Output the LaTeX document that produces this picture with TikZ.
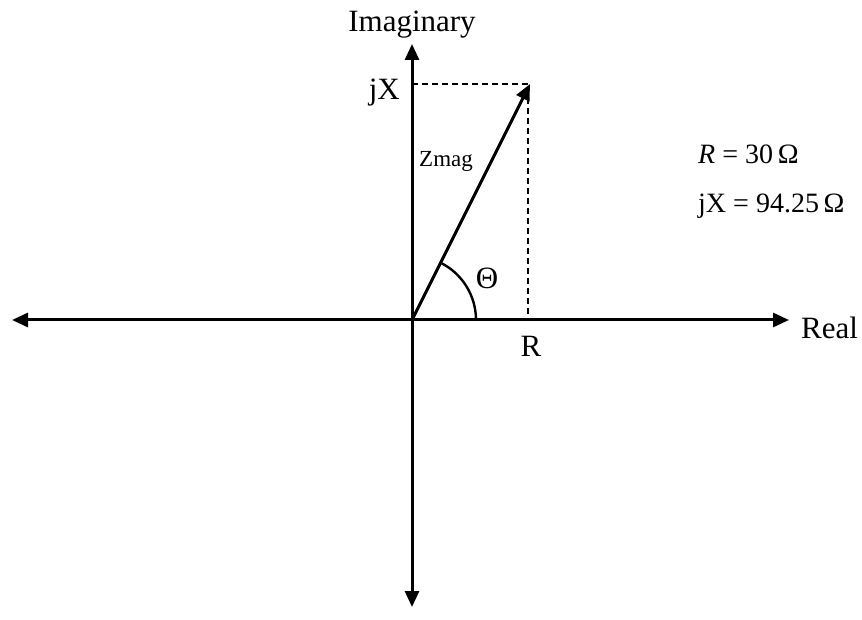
\documentclass[tikz,border=0pt]{standalone}
\usepackage{fontspec}
\setmainfont{Liberation Serif}
\usetikzlibrary{arrows.meta}
\tikzset{
  axisline/.style={line width=3pt},
  bigtip/.tip={Triangle[length=16pt,width=14pt]},
  guide/.style={line width=2pt,dash pattern=on 6pt off 4pt},
  lbl/.style={inner sep=0pt,font=\fontsize{31}{37}\selectfont},
  eqlbl/.style={inner sep=0pt,font=\fontsize{28}{34}\selectfont},
  smalllbl/.style={inner sep=0pt,font=\fontsize{23}{28}\selectfont}
}
\begin{document}
\begin{tikzpicture}[x=1pt,y=-1pt]
\useasboundingbox (0,0) rectangle (862,620);
\coordinate (O) at (412,320);
\coordinate (L) at (12,320);
\coordinate (Rt) at (789,320);
\coordinate (T) at (412,44);
\coordinate (B) at (412,607);
\coordinate (P) at (530,84);
\coordinate (PX) at (528,84);
\coordinate (PY) at (412,84);
\coordinate (PR) at (528,320);
\coordinate (A0) at (476,320);
% axes
\draw[axisline,bigtip-bigtip] (L) -- (Rt);
\draw[axisline,bigtip-bigtip] (B) -- (T);
% dashed guides
\draw[guide] (PY) -- (PX) -- (PR);
% vector
\draw[axisline,-bigtip] (O) -- (P);
% angle arc
\draw[line width=2.4pt] (A0) arc[start angle=0,end angle=-63,radius=64];
% labels
\node[lbl,anchor=base] (imag) at (412,32) {Imaginary};
\node[lbl,anchor=base east] (jx) at (400,100) {jX};
\node[smalllbl,anchor=base west] (zmag) at (419,167) {Zmag};
\node[lbl] (theta) at (487,278) {Θ};
\node[lbl] (rlab) at (531,346) {R};
\node[lbl,anchor=base west] (real) at (801,338) {Real};
\node[eqlbl,anchor=base west] (eq1) at (698,164) {\textit{R} = 30\,Ω};
\node[eqlbl,anchor=base west] (eq2) at (698,213) {jX = 94.25\,Ω};
\end{tikzpicture}
\end{document}
